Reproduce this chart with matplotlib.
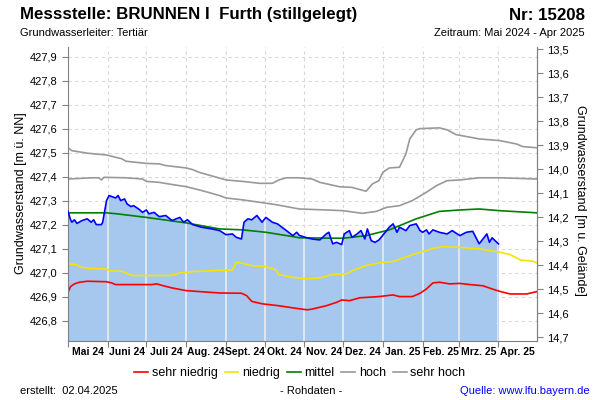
import matplotlib
matplotlib.use('Agg')
import matplotlib.pyplot as plt
import matplotlib.dates as mdates
import matplotlib.ticker as mticker
import numpy as np
import pandas as pd

plt.rcParams['font.family'] = ['Liberation Sans', 'DejaVu Sans']

# ---------------- data ----------------
START = '2024-05-01'
END = '2025-05-01'
GELAENDE = 441.43  # ground level [m ü. NN]

month_labels = ["Mai 24", "Juni 24", "Juli 24", "Aug. 24", "Sept. 24", "Okt. 24",
                "Nov. 24", "Dez. 24", "Jan. 25", "Feb. 25", "Mrz. 25", "Apr. 25"]
left_ticks = [426.8, 426.9, 427.0, 427.1, 427.2, 427.3, 427.4, 427.5, 427.6, 427.7, 427.8, 427.9]
right_ticks = [13.5, 13.6, 13.7, 13.8, 13.9, 14.0, 14.1, 14.2, 14.3, 14.4, 14.5, 14.6, 14.7]

# days since 2024-05-01
sehr_hoch_days = [0, 3, 16, 30, 42, 45, 61, 71, 76, 92, 97, 102, 123, 136, 149, 159, 164, 170,
                  180, 190, 196, 211, 221, 232, 237, 242, 245, 250, 258, 263, 266, 271, 274,
                  289, 295, 302, 320, 336, 349, 354, 365]
sehr_hoch_vals = [427.520, 427.508, 427.497, 427.490, 427.474, 427.464, 427.455, 427.453,
                  427.446, 427.436, 427.429, 427.418, 427.386, 427.380, 427.372, 427.372,
                  427.386, 427.395, 427.395, 427.390, 427.376, 427.358, 427.355, 427.339,
                  427.370, 427.383, 427.418, 427.436, 427.439, 427.495, 427.557, 427.595,
                  427.600, 427.603, 427.595, 427.575, 427.557, 427.550, 427.536, 427.525,
                  427.520]

hoch_days = [0, 19, 24, 26, 28, 45, 58, 61, 71, 81, 92, 104, 118, 123, 136, 149, 162, 170,
             180, 201, 214, 229, 240, 248, 258, 268, 279, 287, 295, 305, 320, 336, 365]
hoch_vals = [427.390, 427.395, 427.395, 427.386, 427.397, 427.395, 427.390, 427.380, 427.376,
             427.367, 427.358, 427.342, 427.321, 427.311, 427.303, 427.293, 427.283, 427.275,
             427.265, 427.261, 427.258, 427.247, 427.255, 427.272, 427.279, 427.300, 427.335,
             427.363, 427.383, 427.386, 427.395, 427.395, 427.390]

mittel_days = [0, 30, 38, 61, 92, 118, 136, 154, 175, 180, 214, 232, 250, 271, 289, 305, 320,
               336, 365]
mittel_vals = [427.249, 427.249, 427.245, 427.230, 427.207, 427.182, 427.178, 427.168, 427.150,
               427.145, 427.143, 427.154, 427.178, 427.224, 427.255, 427.261, 427.265, 427.258,
               427.249]

niedrig_days = [0, 7, 10, 16, 30, 32, 42, 50, 79, 83, 87, 97, 112, 128, 131, 136, 143, 154,
                162, 164, 175, 186, 196, 206, 217, 221, 232, 245, 253, 266, 274, 279, 284,
                292, 305, 320, 336, 344, 352, 362, 365]
niedrig_vals = [427.036, 427.033, 427.022, 427.018, 427.015, 427.008, 427.005, 426.988, 426.988,
                426.992, 426.999, 427.004, 427.008, 427.011, 427.043, 427.039, 427.029, 427.025,
                427.011, 426.992, 426.980, 426.974, 426.978, 426.992, 426.995, 427.008, 427.029,
                427.043, 427.046, 427.071, 427.085, 427.092, 427.101, 427.108, 427.105, 427.099,
                427.085, 427.075, 427.053, 427.047, 427.040]

sehr_niedrig_days = [0, 2, 5, 9, 15, 30, 34, 37, 65, 69, 73, 81, 92, 102, 118, 135, 139, 143,
                     151, 164, 175, 186, 190, 201, 209, 213, 219, 227, 242, 253, 258, 268, 274,
                     279, 284, 289, 297, 305, 313, 323, 330, 336, 344, 357, 365]
sehr_niedrig_vals = [426.918, 426.942, 426.953, 426.960, 426.964, 426.962, 426.957, 426.950,
                     426.950, 426.953, 426.947, 426.936, 426.925, 426.921, 426.915, 426.914,
                     426.904, 426.880, 426.870, 426.862, 426.853, 426.845, 426.848, 426.862,
                     426.876, 426.886, 426.883, 426.895, 426.900, 426.907, 426.900, 426.900,
                     426.914, 426.932, 426.957, 426.960, 426.953, 426.955, 426.950, 426.945,
                     426.932, 426.922, 426.911, 426.911, 426.921]

mess_days = [0, 2, 3, 5, 7, 11, 15, 18, 20, 22, 26, 27, 30, 32, 34, 37, 39, 41, 44, 46, 49,
             51, 55, 58, 61, 63, 67, 71, 76, 81, 87, 90, 93, 97, 104, 112, 118, 123, 128, 131,
             135, 137, 140, 143, 147, 151, 154, 159, 163, 170, 175, 178, 180, 186, 190, 196,
             201, 203, 206, 209, 213, 215, 219, 221, 225, 228, 231, 233, 236, 239, 242, 248,
             250, 253, 256, 258, 263, 266, 271, 274, 276, 279, 281, 284, 289, 295, 299, 305,
             310, 315, 320, 326, 328, 330, 335]
mess_vals = [427.255, 427.220, 427.210, 427.220, 427.205, 427.217, 427.224, 427.210, 427.220,
             427.200, 427.200, 427.210, 427.300, 427.321, 427.317, 427.311, 427.321, 427.300,
             427.307, 427.286, 427.275, 427.279, 427.265, 427.251, 427.261, 427.245, 427.251,
             427.233, 427.238, 427.217, 427.230, 427.210, 427.220, 427.200, 427.189, 427.182,
             427.175, 427.158, 427.161, 427.147, 427.140, 427.210, 427.224, 427.220, 427.238,
             427.210, 427.230, 427.210, 427.203, 427.175, 427.154, 427.168, 427.155, 427.145,
             427.140, 427.136, 427.161, 427.168, 427.120, 427.126, 427.117, 427.161, 427.175,
             427.147, 427.161, 427.175, 427.140, 427.182, 427.133, 427.126, 427.136, 427.175,
             427.189, 427.203, 427.168, 427.189, 427.175, 427.196, 427.203, 427.175, 427.168,
             427.178, 427.161, 427.178, 427.168, 427.161, 427.175, 427.154, 427.168, 427.172,
             427.120, 427.161, 427.126, 427.145, 427.120]

# ---------------- helpers ----------------
t0 = pd.Timestamp(START)
def to_dates(days):
    return mdates.date2num(t0 + pd.to_timedelta(np.asarray(days, dtype=float), unit='D'))

YMIN, YMAX = 426.715, 427.94

fig = plt.figure(figsize=(6, 4), dpi=100)
ax = fig.add_axes([68 / 600, 1 - 341 / 400, (537 - 68) / 600, (341 - 47) / 400])

x_start = mdates.date2num(pd.Timestamp(START))
x_end = mdates.date2num(pd.Timestamp(END))
ax.set_xlim(x_start, x_end)
ax.set_ylim(YMIN, YMAX)

month_starts = pd.date_range(START, periods=13, freq='MS')
month_num = mdates.date2num(month_starts)
mid_num = (month_num[:-1] + month_num[1:]) / 2

# grid
for yv in left_ticks:
    ax.axhline(yv, color='#d8d8d8', lw=0.8, ls=(0, (3, 3)), zorder=0)
for xv in month_num[1:-1]:
    ax.axvline(xv, color='#d8d8d8', lw=0.8, ls=(0, (3, 3)), zorder=0)

# measured fill
xm = to_dates(mess_days)
fill = ax.fill_between(xm, mess_vals, YMIN, color='#a6c8ef', lw=0, zorder=1)
vl = ax.vlines(month_num[1:-1], YMIN, YMAX, colors='#ececec', lw=1.2, zorder=1.5)
vl.set_clip_path(fill.get_paths()[0], ax.transData)

# reference lines
ax.plot(to_dates(sehr_hoch_days), sehr_hoch_vals, color='#999999', lw=1.2, zorder=2)
ax.plot(to_dates(hoch_days), hoch_vals, color='#999999', lw=1.2, zorder=2)
ax.plot(to_dates(mittel_days), mittel_vals, color='#008000', lw=1.2, zorder=2)
ax.plot(to_dates(niedrig_days), niedrig_vals, color='#f5e400', lw=1.2, zorder=2)
ax.plot(to_dates(sehr_niedrig_days), sehr_niedrig_vals, color='#ff0000', lw=1.2, zorder=2)
ax.plot(xm, mess_vals, color='#0000ff', lw=1.2, zorder=3)

# axes styling
for s in ['left', 'right', 'bottom']:
    ax.spines[s].set_color('#808080')
ax.spines['top'].set_visible(False)

ax.set_yticks(left_ticks)
ax.yaxis.set_major_formatter(mticker.FuncFormatter(lambda v, p: f"{v:.1f}".replace('.', ',')))
ax.tick_params(axis='y', colors='#808080', labelcolor='black', labelsize=8, length=4, width=0.8)

ax.set_xticks(month_num[:-1])
ax.set_xticklabels([])
ax.set_xticks(mid_num, minor=True)
ax.set_xticklabels(month_labels, minor=True, fontweight='bold')
ax.tick_params(axis='x', which='major', colors='#808080', length=4, width=0.8)
ax.tick_params(axis='x', which='minor', length=0, labelsize=7.5, labelcolor='black', pad=4)

ax.set_ylabel('Grundwasserstand [m ü. NN]', fontsize=9, va='center')
ax.yaxis.set_label_coords(21 / 600, 1 - 193 / 400, transform=fig.transFigure)

sec = ax.secondary_yaxis('right', functions=(lambda v: GELAENDE - v, lambda d: GELAENDE - d))
sec.set_yticks(right_ticks)
sec.yaxis.set_major_formatter(mticker.FuncFormatter(lambda v, p: f"{v:.1f}".replace('.', ',')))
sec.tick_params(axis='y', colors='#808080', labelcolor='black', labelsize=8, length=4, width=0.8)
sec.spines['right'].set_color('#808080')
sec.set_ylabel('Grundwasserstand [m u. Gelände]', fontsize=9, rotation=270, va='center')
sec.yaxis.set_label_coords(580 / 600, 1 - 200 / 400, transform=fig.transFigure)

# legend
handles = [
    plt.Line2D([], [], color='#ff0000', lw=1.2),
    plt.Line2D([], [], color='#f5e400', lw=1.2),
    plt.Line2D([], [], color='#008000', lw=1.2),
    plt.Line2D([], [], color='#999999', lw=1.2),
    plt.Line2D([], [], color='#999999', lw=1.2),
]
fig.legend(handles, ['sehr niedrig', 'niedrig', 'mittel', 'hoch', 'sehr hoch'],
           loc='center', bbox_to_anchor=(300 / 600, 1 - 373 / 400), ncol=5, frameon=False,
           fontsize=9, handlelength=1.1, handletextpad=0.3, columnspacing=0.55)

# texts
fig.text(20 / 600, 1 - 15 / 400, 'Messstelle: BRUNNEN I  Furth (stillgelegt)', fontsize=12.2,
         ha='left', va='center', weight='bold')
fig.text(585 / 600, 1 - 15 / 400, 'Nr: 15208', fontsize=12.2, ha='right', va='center', weight='bold')
fig.text(20 / 600, 1 - 33 / 400, 'Grundwasserleiter: Tertiär', fontsize=8, ha='left', va='center')
fig.text(585 / 600, 1 - 33 / 400, 'Zeitraum: Mai 2024 - Apr 2025', fontsize=8, ha='right', va='center')
fig.text(20 / 600, 1 - 391 / 400, 'erstellt:  02.04.2025', fontsize=8, ha='left', va='center')
fig.text(311 / 600, 1 - 391 / 400, '- Rohdaten -', fontsize=8, ha='center', va='center')
fig.text(590 / 600, 1 - 391 / 400, 'Quelle: www.lfu.bayern.de', fontsize=8, ha='right', va='center',
         color='#0000ff')

fig.savefig('out.png', dpi=100)
